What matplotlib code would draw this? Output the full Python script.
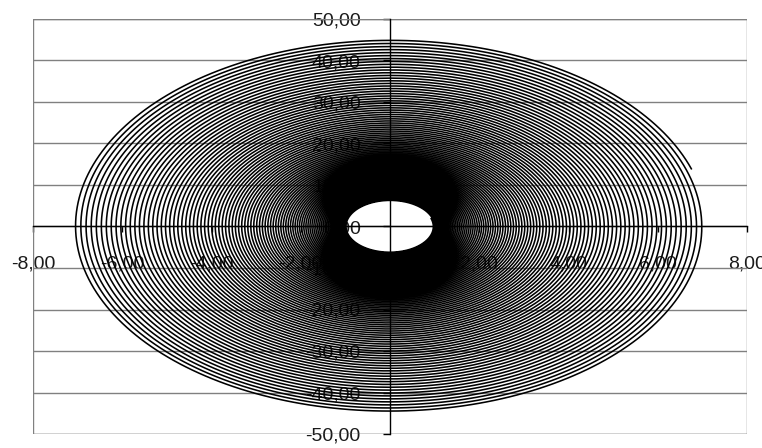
import numpy as np
import matplotlib
matplotlib.use("Agg")
import matplotlib.pyplot as plt
from matplotlib.patches import Rectangle
from matplotlib.ticker import FuncFormatter

# ---- data ----
x_ticks = [-8, -6, -4, -2, 2, 4, 6, 8]
y_ticks = [-50, -40, -30, -20, -10, 0, 10, 20, 30, 40, 50]
inner_semi_axes = [0.97, 6.1]     # x, y half-widths of the innermost turn
outer_semi_axes = [7.1, 45.0]     # x, y half-widths at the spiral's end
spiral_turns = [90]               # number of turns between inner and outer
growth_power = [3.5]              # turn spacing widens outward
end_angle_deg = [18]              # where the outer end of the spiral stops
points_per_turn = [240]

# ---- build the spiral curve ----
r0, r1 = inner_semi_axes[0], outer_semi_axes[0]
k = outer_semi_axes[1] / outer_semi_axes[0]
T = spiral_turns[0]
p = growth_power[0]
s = np.linspace(0, T, T * points_per_turn[0] + 1)
q = r0 ** (1 / p) + s * (r1 ** (1 / p) - r0 ** (1 / p)) / T
r = q ** p
theta = np.deg2rad(end_angle_deg[0]) + (T - s) * 2 * np.pi
xs = r * np.cos(theta)
ys = k * r * np.sin(theta)

plt.rcParams['font.family'] = ['Liberation Sans', 'DejaVu Sans']

fig = plt.figure(figsize=(7.62, 4.48), dpi=100)
ax = fig.add_axes([33 / 762, 14 / 448, 714 / 762, 415 / 448])
ax.set_axisbelow(True)

ax.plot(xs, ys, color='black', linewidth=1.15, zorder=2)

ax.set_xlim(-8, 8)
ax.set_ylim(-50, 50)
ax.set_xticks(x_ticks)
ax.set_yticks(y_ticks)
fmt = FuncFormatter(lambda v, p: f"{v:.2f}".replace('.', ','))
ax.xaxis.set_major_formatter(fmt)
ax.yaxis.set_major_formatter(fmt)

ax.yaxis.grid(True, color='#808080', linewidth=1.0)
ax.xaxis.grid(False)

for sp in ['top', 'right']:
    ax.spines[sp].set_visible(False)
ax.spines['left'].set_position(('data', 0))
ax.spines['bottom'].set_position(('data', 0))
for sp in ['left', 'bottom']:
    ax.spines[sp].set_color('black')
    ax.spines[sp].set_linewidth(1.0)
    ax.spines[sp].set_zorder(3)

ax.add_patch(Rectangle((0, 0), 1, 1, transform=ax.transAxes, fill=False,
                       edgecolor='#808080', linewidth=1.0, zorder=0.6))

ax.tick_params(axis='x', direction='out', length=4, width=1, color='black',
               pad=17, labelsize=14, labelcolor='#1a1a1a')
ax.tick_params(axis='y', direction='out', length=5, width=1, color='black',
               pad=16, labelsize=14, labelcolor='#1a1a1a')

fig.savefig('out.png', dpi=100)
